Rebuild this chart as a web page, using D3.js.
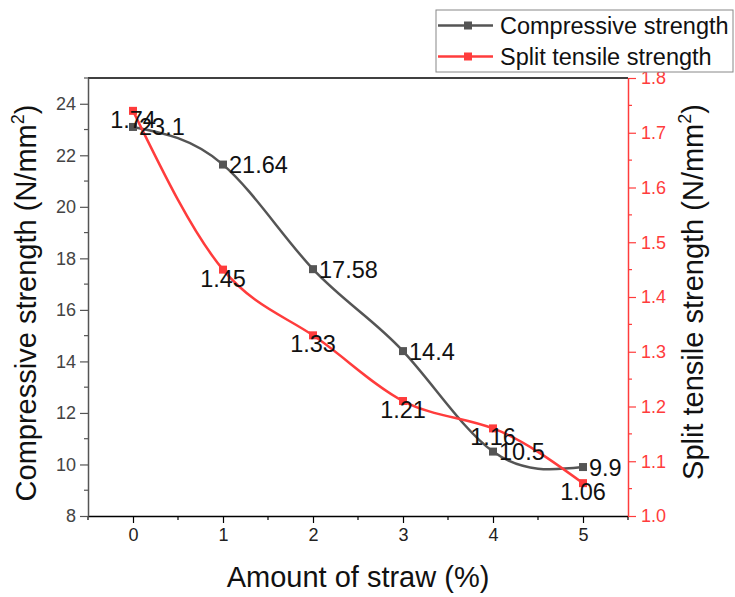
<!DOCTYPE html>
<html>
<head>
<meta charset="utf-8">
<script src="https://cdn.jsdelivr.net/npm/d3@7"></script>
<style>
  body { margin: 0; background: #fff; }
  svg text { font-family: Arial, 'Liberation Sans', sans-serif; }
</style>
</head>
<body>
<div id="chart"></div>
<script>
const strawAmount = [0, 1, 2, 3, 4, 5];
const compressive = [23.1, 21.64, 17.58, 14.4, 10.5, 9.9];
const splitTensile = [1.74, 1.45, 1.33, 1.21, 1.16, 1.06];
const leftTicks = [8, 10, 12, 14, 16, 18, 20, 22, 24];
const rightTicks = [1.0, 1.1, 1.2, 1.3, 1.4, 1.5, 1.6, 1.7, 1.8];
const seriesNames = ['Compressive strength', 'Split tensile strength'];

const width = 735;
const height = 597;
const grey = '#555555';
const red = '#ff3c3c';
const plot = { left: 88, right: 628, top: 78, bottom: 516 };

const svg = d3.select('#chart').append('svg')
  .attr('width', width)
  .attr('height', height);

const x = d3.scaleLinear().domain([-0.5, 5.5]).range([plot.left, plot.right]);
const yLeft = d3.scaleLinear().domain([8, 25]).range([plot.bottom, plot.top]);
const yRight = d3.scaleLinear().domain([1.0, 1.8]).range([plot.bottom, plot.top]);

// top frame line
svg.append('line')
  .attr('x1', plot.left).attr('x2', plot.right)
  .attr('y1', plot.top).attr('y2', plot.top)
  .attr('stroke', '#000').attr('stroke-width', 1.5);

// x axis
const xMinor = d3.range(-0.5, 5.51, 1);
const xAxisG = svg.append('g').attr('transform', `translate(0,${plot.bottom})`);
xAxisG.call(d3.axisBottom(x).tickValues(strawAmount).tickFormat(d3.format('d'))
  .tickSize(7).tickPadding(5).tickSizeOuter(0));
xAxisG.append('g').selectAll('line').data(xMinor).join('line')
  .attr('x1', d => x(d)).attr('x2', d => x(d))
  .attr('y1', 0).attr('y2', 4)
  .attr('stroke', '#000').attr('stroke-width', 1.2);
xAxisG.select('.domain').attr('stroke', '#000').attr('stroke-width', 1.5);
xAxisG.selectAll('.tick line').attr('stroke', '#000').attr('stroke-width', 1.2);
xAxisG.selectAll('.tick text').attr('font-size', 18).attr('fill', '#222');

// left axis
const leftMinor = d3.range(9, 25.1, 2);
const leftG = svg.append('g').attr('transform', `translate(${plot.left},0)`);
leftG.call(d3.axisLeft(yLeft).tickValues(leftTicks).tickSize(8).tickPadding(4).tickSizeOuter(0));
leftG.append('g').selectAll('line').data(leftMinor).join('line')
  .attr('x1', 0).attr('x2', -4)
  .attr('y1', d => yLeft(d)).attr('y2', d => yLeft(d))
  .attr('stroke', grey).attr('stroke-width', 1.2);
leftG.select('.domain').attr('stroke', grey).attr('stroke-width', 1.5);
leftG.selectAll('.tick line').attr('stroke', grey).attr('stroke-width', 1.2);
leftG.selectAll('.tick text').attr('font-size', 18).attr('fill', '#444');

// right axis
const rightMinor = d3.range(1.05, 1.8, 0.1);
const rightG = svg.append('g').attr('transform', `translate(${plot.right},0)`);
rightG.call(d3.axisRight(yRight).tickValues(rightTicks).tickFormat(d3.format('.1f'))
  .tickSize(8).tickPadding(5).tickSizeOuter(0));
rightG.append('g').selectAll('line').data(rightMinor).join('line')
  .attr('x1', 0).attr('x2', 4)
  .attr('y1', d => yRight(d)).attr('y2', d => yRight(d))
  .attr('stroke', red).attr('stroke-width', 1.2);
rightG.select('.domain').attr('stroke', red).attr('stroke-width', 1.5);
rightG.selectAll('.tick line').attr('stroke', red).attr('stroke-width', 1.2);
rightG.selectAll('.tick text').attr('font-size', 18).attr('fill', red);

// axis titles
svg.append('text')
  .attr('x', 358).attr('y', 587)
  .attr('text-anchor', 'middle').attr('font-size', 29).attr('fill', '#111')
  .text('Amount of straw (%)');

function unitTitle(label, tx, ty) {
  const t = svg.append('text')
    .attr('transform', `translate(${tx},${ty}) rotate(-90)`)
    .attr('text-anchor', 'middle').attr('font-size', 29).attr('fill', '#111');
  t.append('tspan').text(label + ' (N/mm');
  t.append('tspan').attr('font-size', 18).attr('dy', -12).text('2');
  t.append('tspan').attr('dy', 12).text(')');
}
unitTitle('Compressive strength', 36, 303);
unitTitle('Split tensile strength', 703, 292);

// series
const compData = strawAmount.map((d, i) => ({ x: d, y: compressive[i] }));
const splitData = strawAmount.map((d, i) => ({ x: d, y: splitTensile[i] }));

const compLine = d3.line().x(d => x(d.x)).y(d => yLeft(d.y)).curve(d3.curveNatural);
const splitLine = d3.line().x(d => x(d.x)).y(d => yRight(d.y)).curve(d3.curveNatural);

svg.append('path').datum(compData)
  .attr('d', compLine).attr('fill', 'none')
  .attr('stroke', grey).attr('stroke-width', 2.5);
svg.append('path').datum(splitData)
  .attr('d', splitLine).attr('fill', 'none')
  .attr('stroke', red).attr('stroke-width', 2.5);

svg.append('g').selectAll('rect').data(compData).join('rect')
  .attr('x', d => x(d.x) - 4).attr('y', d => yLeft(d.y) - 4)
  .attr('width', 8).attr('height', 8).attr('fill', grey);
svg.append('g').selectAll('rect').data(splitData).join('rect')
  .attr('x', d => x(d.x) - 4).attr('y', d => yRight(d.y) - 4)
  .attr('width', 8).attr('height', 8).attr('fill', red);

// data labels
svg.append('g').selectAll('text').data(compData).join('text')
  .attr('x', d => x(d.x) + 6).attr('y', d => yLeft(d.y) + 8.5)
  .attr('font-size', 23.5).attr('fill', '#111')
  .text(d => d.y);
svg.append('g').selectAll('text').data(splitData).join('text')
  .attr('x', d => x(d.x)).attr('y', d => yRight(d.y) + 17)
  .attr('text-anchor', 'middle')
  .attr('font-size', 23.5).attr('fill', '#111')
  .text(d => d.y);

// legend
const legend = svg.append('g');
legend.append('rect')
  .attr('x', 436).attr('y', 10).attr('width', 297).attr('height', 62)
  .attr('fill', '#fff').attr('stroke', '#888').attr('stroke-width', 1);
[grey, red].forEach((c, i) => {
  const cy = 25.5 + i * 31;
  legend.append('line')
    .attr('x1', 438).attr('x2', 493).attr('y1', cy).attr('y2', cy)
    .attr('stroke', c).attr('stroke-width', 2.5);
  legend.append('rect')
    .attr('x', 464).attr('y', cy - 4).attr('width', 8).attr('height', 8).attr('fill', c);
  legend.append('text')
    .attr('x', 500).attr('y', cy + 8.5)
    .attr('font-size', 23.5).attr('fill', '#111')
    .text(seriesNames[i]);
});
</script>
</body>
</html>
